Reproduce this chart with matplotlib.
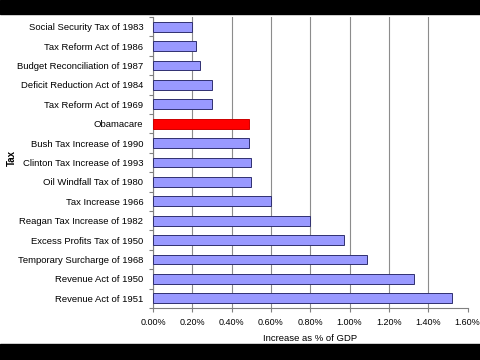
import matplotlib.pyplot as plt
import matplotlib.patches as mpatches
from matplotlib.ticker import FuncFormatter, MultipleLocator

plt.rcParams['font.family'] = ['Liberation Sans', 'DejaVu Sans']

# 세금 항목 (위에서 아래 순서)
taxes = ['Social Security Tax of 1983', 'Tax Reform Act of 1986',
         'Budget Reconciliation of 1987', 'Deficit Reduction Act of 1984',
         'Tax Reform Act of 1969', 'Obamacare', 'Bush Tax Increase of 1990',
         'Clinton Tax Increase of 1993', 'Oil Windfall Tax of 1980',
         'Tax Increase 1966', 'Reagan Tax Increase of 1982',
         'Excess Profits Tax of 1950', 'Temporary Surcharge of 1968',
         'Revenue Act of 1950', 'Revenue Act of 1951']
gdp_pct = [0.20, 0.22, 0.24, 0.30, 0.30, 0.49, 0.49, 0.50, 0.50,
           0.60, 0.80, 0.97, 1.09, 1.33, 1.52]
highlight = 'Obamacare'

fig = plt.figure(figsize=(4.8, 3.6), dpi=100)
# 위아래 검은 띠
fig.patches.append(mpatches.Rectangle((0, 1 - 14/360), 1, 14/360, transform=fig.transFigure,
                                      color='black', zorder=0))
fig.patches.append(mpatches.Rectangle((0, 0), 1, 16/360, transform=fig.transFigure,
                                      color='black', zorder=0))

ax = fig.add_axes([153/480, 1 - 308/360, (467.5 - 153)/480, (308 - 17)/360])

y = list(range(len(taxes)))
colors = ['#ff0000' if t == highlight else '#9999ff' for t in taxes]
edges = ['#cc0000' if t == highlight else '#303070' for t in taxes]
ax.barh(y, gdp_pct, height=0.5, color=colors, edgecolor=edges, linewidth=0.7, zorder=3)

ax.set_ylim(len(taxes) - 0.5, -0.5)
ax.set_xlim(0, 1.6)
ax.xaxis.set_major_locator(MultipleLocator(0.2))
ax.xaxis.set_major_formatter(FuncFormatter(lambda v, p: f'{v:.2f}%'))
ax.set_yticks(y)
ax.set_yticklabels(taxes)
ax.set_yticks([i + 0.5 for i in range(-1, len(taxes))], minor=True)
ax.tick_params(axis='y', which='major', length=0, labelsize=6.8, pad=7)
ax.tick_params(axis='y', which='minor', length=3, color='#808080', width=0.8)
ax.tick_params(axis='x', length=3, color='#808080', labelsize=6.5, pad=4)

ax.grid(axis='x', color='#8c8c8c', linewidth=0.8, zorder=0)
for s in ['top', 'right']:
    ax.spines[s].set_visible(False)
for s in ['left', 'bottom']:
    ax.spines[s].set_color('#808080')
    ax.spines[s].set_linewidth(0.8)

ax.set_xlabel('Increase as % of GDP', fontsize=6.8, labelpad=5)
fig.text(12/480, 1 - 158/360, 'Tax', rotation=90, fontsize=7, fontweight='bold',
         ha='center', va='center')

fig.savefig('out.png', dpi=100, facecolor='white')
